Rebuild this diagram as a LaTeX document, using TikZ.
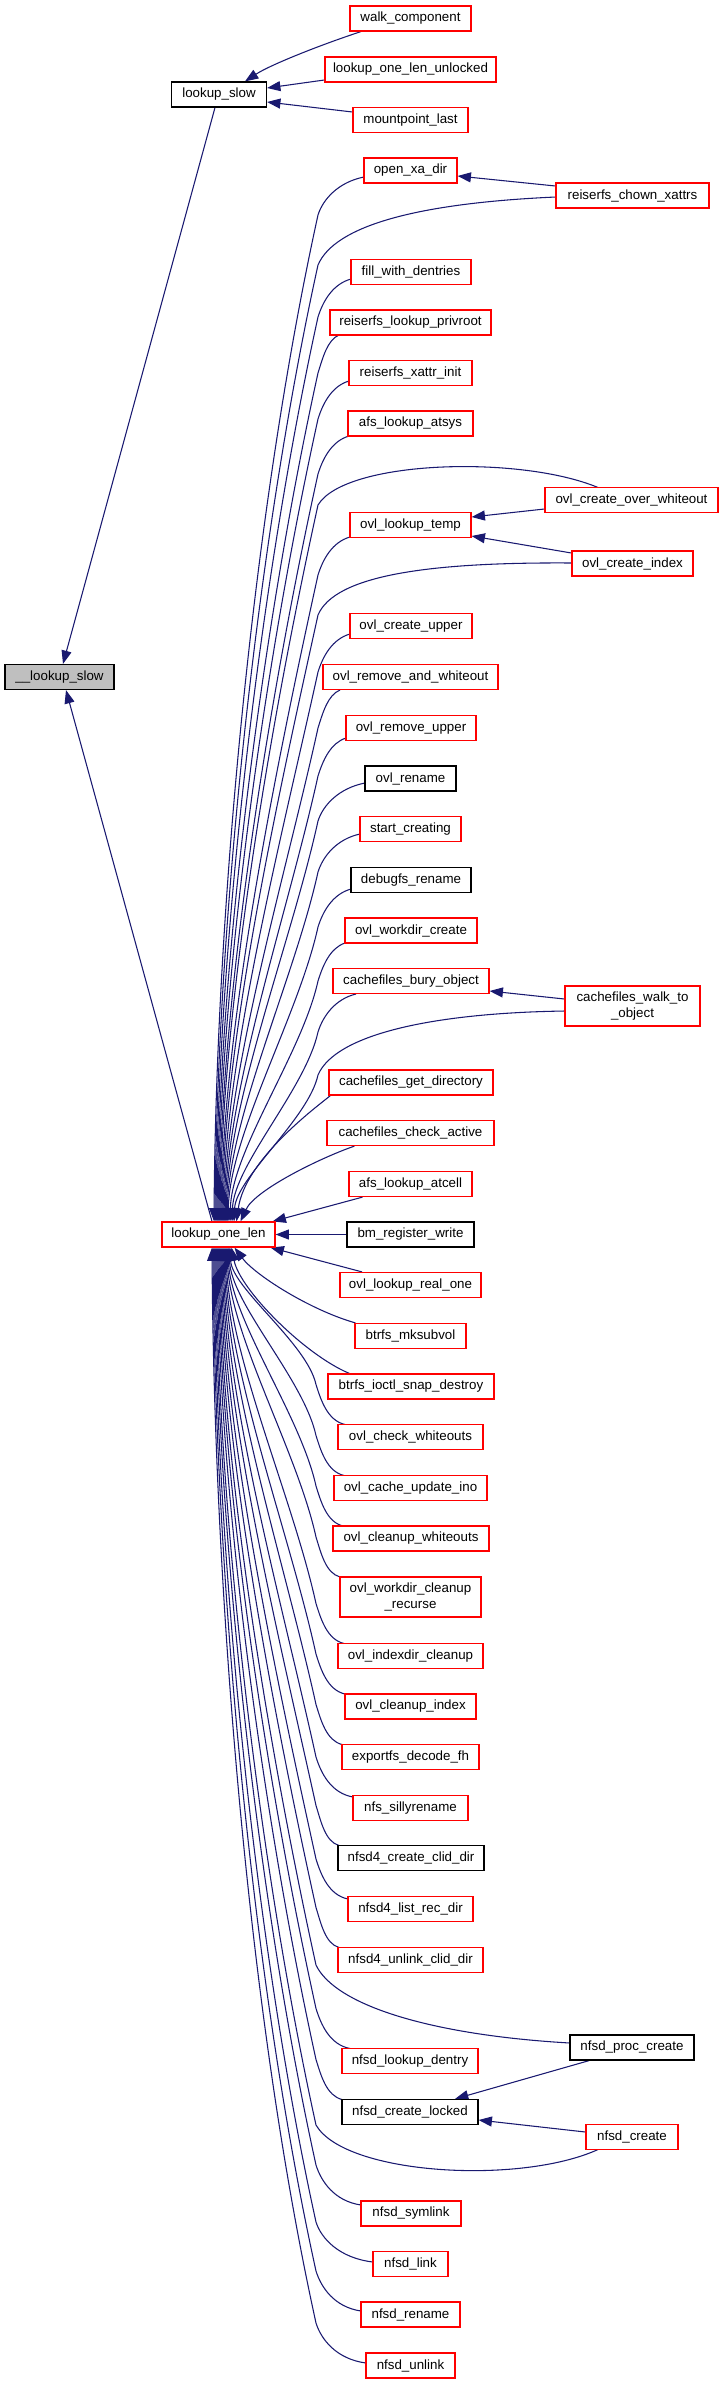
\documentclass[tikz,border=0pt]{standalone}
\usepackage{fontspec}
\setmainfont{Liberation Sans}
\usetikzlibrary{arrows.meta}
\definecolor{midblue}{HTML}{191970}
\definecolor{grayfill}{HTML}{BFBFBF}
\pgfdeclarelayer{background}
\pgfsetlayers{background,main}
\tikzset{
  fn/.style={draw=red, fill=white, line width=0.9pt, minimum height=18.75pt,
    inner xsep=0pt, inner ysep=0pt, font=\fontsize{10}{12}\selectfont, align=center},
  fb/.style={fn, draw=black},
  fg/.style={fn, draw=black, fill=grayfill},
  edge/.style={draw=midblue, line width=0.8pt, -{Triangle[length=10pt,width=7.5pt]}},
}
% upper edge with explicit first segment: name, cx, cy, Sx, Sy, C1, C2, Ky, Tx
\newcommand\upK[9]{%
  \pgfmathsetmacro\EdSx{#4-#2}\pgfmathsetmacro\EdSy{#5-#3}%
  \pgfmathsetmacro\EdL{0.3*(1222-#8)}%
  \pgfmathsetmacro\EdA{318-0.22*\EdL}\pgfmathsetmacro\EdB{#8+\EdL}%
  \pgfmathsetmacro\EdC{#9+2}\pgfmathsetmacro\EdD{1222-\EdL}%
  \pgfmathsetmacro\EdT{#9-218.5}%
  \draw[edge] ([shift={(\EdSx,\EdSy)}]#1.center) .. controls #6 and #7 .. (318,#8)
    .. controls (\EdA,\EdB) and (\EdC,\EdD) .. ([shift={(\EdT,0)}]lo.north);}
\newcommand\upE[6]{%
  \pgfmathsetmacro\EdP{#4-0.55*(#4-318)}\pgfmathsetmacro\EdQ{#5+5}%
  \pgfmathsetmacro\EdK{#5+38}\pgfmathsetmacro\EdR{\EdK-16}%
  \upK{#1}{#2}{#3}{#4}{#5}{(\EdP,\EdQ)}{(323,\EdR)}{\EdK}{#6}}
% lower edge
\newcommand\loK[9]{%
  \pgfmathsetmacro\EdSx{#4-#2}\pgfmathsetmacro\EdSy{#5-#3}%
  \pgfmathsetmacro\EdL{0.3*(#8-1247)}%
  \pgfmathsetmacro\EdA{316-0.22*\EdL}\pgfmathsetmacro\EdB{#8-\EdL}%
  \pgfmathsetmacro\EdC{#9+2}\pgfmathsetmacro\EdD{1247+\EdL}%
  \pgfmathsetmacro\EdT{#9-218.5}%
  \draw[edge] ([shift={(\EdSx,\EdSy)}]#1.center) .. controls #6 and #7 .. (316,#8)
    .. controls (\EdA,\EdB) and (\EdC,\EdD) .. ([shift={(\EdT,0)}]lo.south);}
\newcommand\loE[6]{%
  \pgfmathsetmacro\EdP{#4-0.6*(#4-316)}\pgfmathsetmacro\EdQ{#5-4}%
  \pgfmathsetmacro\EdK{#5-40}\pgfmathsetmacro\EdR{\EdK+16}%
  \loK{#1}{#2}{#3}{#4}{#5}{(\EdP,\EdQ)}{(321,\EdR)}{\EdK}{#6}}
\begin{document}
\begin{tikzpicture}[x=0.75pt,y=-0.75pt]
\useasboundingbox (0,0) rectangle (719,2384);
% nodes
\node[fb, minimum width=71.25pt] (ls) at (219,94.5) {lookup\_slow};
\node[fg, minimum width=81.75pt] (uls) at (59.5,677) {\_\_lookup\_slow};
\node[fn, minimum width=90.75pt] (wc) at (410.5,18.5) {walk\_component};
\node[fn, minimum width=128.25pt] (lolu) at (410.5,69.5) {lookup\_one\_len\_unlocked};
\node[fn, minimum width=86.25pt] (mpl) at (410.5,120) {mountpoint\_last};
\node[fn, minimum width=69.75pt] (oxd) at (410.5,170.5) {open\_xa\_dir};
\node[fn, minimum width=114.75pt] (rcx) at (632.5,195.5) {reiserfs\_chown\_xattrs};
\node[fn, minimum width=90pt] (fwd) at (411,272) {fill\_with\_dentries};
\node[fn, minimum width=120.75pt] (rlp) at (410.5,322.5) {reiserfs\_lookup\_privroot};
\node[fn, minimum width=92.25pt] (rxi) at (410.5,373) {reiserfs\_xattr\_init};
\node[fn, minimum width=93.75pt] (afsy) at (410.5,423.5) {afs\_lookup\_atsys};
\node[fn, minimum width=129.75pt] (ocow) at (631.5,500) {ovl\_create\_over\_whiteout};
\node[fn, minimum width=90.75pt] (olt) at (410.5,525) {ovl\_lookup\_temp};
\node[fn, minimum width=90.75pt] (oci) at (632.5,563.5) {ovl\_create\_index};
\node[fn, minimum width=91.5pt] (ocu) at (411,626) {ovl\_create\_upper};
\node[fn, minimum width=131.25pt] (orw) at (410.5,677) {ovl\_remove\_and\_whiteout};
\node[fn, minimum width=97.5pt] (oru) at (411,728) {ovl\_remove\_upper};
\node[fb, minimum width=68.25pt] (orn) at (410.5,778.5) {ovl\_rename};
\node[fn, minimum width=75.75pt] (stc) at (410.5,829) {start\_creating};
\node[fb, minimum width=90pt] (dbr) at (411,880) {debugfs\_rename};
\node[fn, minimum width=99pt] (owc) at (411,930.5) {ovl\_workdir\_create};
\node[fn, minimum width=117pt] (cbo) at (411,981) {cachefiles\_bury\_object};
\node[fn, minimum width=101.25pt, minimum height=30pt] (cwo) at (632.5,1006) {cachefiles\_walk\_to\\\_object};
\node[fn, minimum width=123pt] (cgd) at (411,1082.5) {cachefiles\_get\_directory};
\node[fn, minimum width=125.25pt] (cca) at (410.5,1133) {cachefiles\_check\_active};
\node[fn, minimum width=92.25pt] (afc) at (410.5,1184) {afs\_lookup\_atcell};
\node[fn, minimum width=84.75pt] (lo) at (218.5,1234.5) {lookup\_one\_len};
\node[fb, minimum width=95.25pt] (bmw) at (410.5,1234.5) {bm\_register\_write};
\node[fn, minimum width=105.75pt] (olr) at (410.5,1285) {ovl\_lookup\_real\_one};
\node[fn, minimum width=83.25pt] (bms) at (410.5,1336) {btrfs\_mksubvol};
\node[fn, minimum width=124.5pt] (bsd) at (411,1386.5) {btrfs\_ioctl\_snap\_destroy};
\node[fn, minimum width=108.75pt] (ocw) at (410.5,1437) {ovl\_check\_whiteouts};
\node[fn, minimum width=114.75pt] (ocui) at (410.5,1488) {ovl\_cache\_update\_ino};
\node[fn, minimum width=117pt] (oclw) at (411,1538.5) {ovl\_cleanup\_whiteouts};
\node[fn, minimum width=105.75pt, minimum height=30pt] (owcr) at (410.5,1597) {ovl\_workdir\_cleanup\\\_recurse};
\node[fn, minimum width=108.75pt] (oidc) at (410.5,1656) {ovl\_indexdir\_cleanup};
\node[fn, minimum width=98.25pt] (ocli) at (410.5,1706.5) {ovl\_cleanup\_index};
\node[fn, minimum width=102.75pt] (edf) at (410.5,1757) {exportfs\_decode\_fh};
\node[fn, minimum width=86.25pt] (nsr) at (410.5,1808) {nfs\_sillyrename};
\node[fb, minimum width=109.5pt] (ncc) at (411,1858) {nfsd4\_create\_clid\_dir};
\node[fn, minimum width=93.75pt] (nlr) at (410.5,1909) {nfsd4\_list\_rec\_dir};
\node[fn, minimum width=108.75pt] (nuc) at (410.5,1960) {nfsd4\_unlink\_clid\_dir};
\node[fb, minimum width=93pt] (npc) at (632,2047.5) {nfsd\_proc\_create};
\node[fn, minimum width=102pt] (nld) at (410,2061) {nfsd\_lookup\_dentry};
\node[fb, minimum width=102pt] (ncl) at (410,2112) {nfsd\_create\_locked};
\node[fn, minimum width=69pt] (ncr) at (632,2137) {nfsd\_create};
\node[fn, minimum width=75pt] (nsy) at (411,2213.5) {nfsd\_symlink};
\node[fn, minimum width=56.25pt] (nli) at (410.5,2264) {nfsd\_link};
\node[fn, minimum width=74.25pt] (nre) at (410.5,2314.5) {nfsd\_rename};
\node[fn, minimum width=66.75pt] (nun) at (410.5,2365.5) {nfsd\_unlink};
% edges
\begin{pgfonlayer}{background}
\draw[edge] ([shift={(-4,0)}]ls.south) -- ([shift={(3.5,0)}]uls.north);
\draw[edge] ([shift={(-6.5,0)}]lo.north) -- ([shift={(6.5,0)}]uls.south);
\draw[edge] ([shift={(-49.5,0)}]wc.south) .. controls (320,45) and (270,65) .. ([shift={(26,0)}]ls.north);
\draw[edge] ([shift={(0,10.5)}]lolu.west) -- ([shift={(0,-6.5)}]ls.east);
\draw[edge] ([shift={(0,-8)}]mpl.west) -- ([shift={(0,7.5)}]ls.east);
\draw[edge] ([shift={(0,-9.5)}]rcx.west) -- ([shift={(0,5.5)}]oxd.east);
\draw[edge] ([shift={(0,9)}]ocow.west) -- ([shift={(0,-8)}]olt.east);
\draw[edge] ([shift={(0,-10.5)}]oci.west) -- ([shift={(0,11)}]olt.east);
\draw[edge] ([shift={(0,-7)}]cwo.west) -- ([shift={(0,10)}]cbo.east);
\draw[edge] ([shift={(-43,0)}]npc.south) -- ([shift={(45,0)}]ncl.north);
\draw[edge] ([shift={(0,-5)}]ncr.west) -- ([shift={(0,8)}]ncl.east);
\draw[edge] (bmw.west) -- (lo.east);
\draw[edge] ([shift={(-48.5,0)}]olr.north) -- ([shift={(-5,0)}]lo.south east);
\draw[edge] ([shift={(-48,0)}]afc.south) -- ([shift={(-3,0)}]lo.north east);
\draw[edge] ([shift={(2,0)}]cgd.south west) .. controls (315,1108) and (245,1160) .. ([shift={(18,0)}]lo.north);
\draw[edge] ([shift={(28,0)}]cca.south west) .. controls (320,1158) and (255,1190) .. ([shift={(22,0)}]lo.north);
\draw[edge] ([shift={(1,0)}]bms.north west) .. controls (310,1310) and (255,1275) .. ([shift={(16,0)}]lo.south);
\draw[edge] ([shift={(22,0)}]bsd.north west) .. controls (305,1355) and (240,1290) .. ([shift={(13,0)}]lo.south);
% upper callers of lookup_one_len
\upE{oxd}{410.5}{170.5}{364}{177}{214}
\upK{rcx}{632.5}{195.5}{556}{197}{(420,203)}{(335,225)}{265}{215}
\upE{fwd}{411}{272}{351}{279}{216}
\upE{rlp}{410.5}{322.5}{339}{335}{217}
\upE{rxi}{410.5}{373}{349}{381}{218}
\upE{afsy}{410.5}{423.5}{349}{436}{219}
\upK{ocow}{631.5}{500}{598}{487.5}{(520,455)}{(345,460)}{505}{220}
\upE{olt}{410.5}{525}{350}{537}{221}
\upK{oci}{632.5}{563.5}{572}{563}{(430,562)}{(335,575)}{615}{222}
\upE{ocu}{411}{626}{350}{634}{223}
\upE{orw}{410.5}{677}{340}{690}{224}
\upE{oru}{411}{728}{346}{738}{225}
\upE{orn}{410.5}{778.5}{365}{783}{226}
\upE{stc}{410.5}{829}{360}{834}{227}
\upE{dbr}{411}{880}{351}{889}{228}
\upE{owc}{411}{930.5}{345}{943}{230}
\upE{cbo}{411}{981}{356}{994}{232}
\upK{cwo}{632.5}{1006}{565}{1011}{(430,1013)}{(335,1035)}{1075}{234}
% lower callers of lookup_one_len
\loE{ocw}{410.5}{1437}{345}{1424.5}{230}
\loE{ocui}{410.5}{1488}{344}{1475.5}{229}
\loE{oclw}{411}{1538.5}{343}{1526}{228}
\loE{owcr}{410.5}{1597}{340}{1577}{227}
\loE{oidc}{410.5}{1656}{344}{1643.5}{226}
\loE{ocli}{410.5}{1706.5}{345}{1694}{225}
\loE{edf}{410.5}{1757}{342}{1744.5}{224}
\loE{nsr}{410.5}{1808}{353}{1797}{223}
\loE{ncc}{411}{1858}{339}{1845.5}{222}
\loE{nlr}{410.5}{1909}{348}{1899}{221}
\loE{nuc}{410.5}{1960}{339}{1947.5}{220}
\loK{npc}{632}{2047.5}{570}{2043}{(430,2035)}{(335,2005)}{1965}{219}
\loE{nld}{410}{2061}{350}{2048.5}{218}
\loE{ncl}{410}{2112}{342}{2099.5}{217}
\loK{ncr}{632}{2137}{598}{2149.5}{(520,2185)}{(345,2175)}{2125}{216}
\loE{nsy}{411}{2213.5}{361}{2205}{215}
\loE{nli}{410.5}{2264}{373}{2262}{214}
\loE{nre}{410.5}{2314.5}{361}{2311}{213}
\loE{nun}{410.5}{2365.5}{366}{2363}{212}
\end{pgfonlayer}
\end{tikzpicture}
\end{document}
